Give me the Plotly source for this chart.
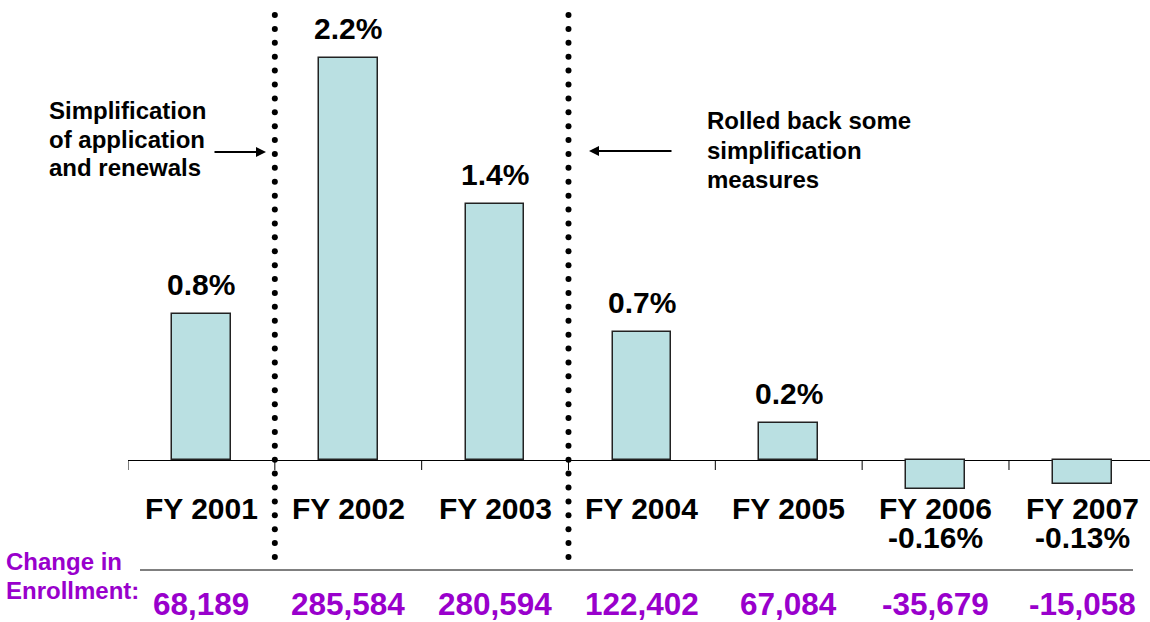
import numpy as np
import plotly.graph_objects as go

# ---- data ----
fiscal_years = ["FY 2001", "FY 2002", "FY 2003", "FY 2004", "FY 2005", "FY 2006", "FY 2007"]
pct_change = [0.8, 2.2, 1.4, 0.7, 0.2, -0.16, -0.13]
enrollment_change = [68189, 285584, 280594, 122402, 67084, -35679, -15058]
left_note = ["Simplification", "of application", "and renewals"]
right_note = ["Rolled back some", "simplification", "measures"]
policy_breaks = [0.5, 2.5]  # between FY2001/FY2002 and FY2003/FY2004

# ---- page geometry ----
W, H = 1150, 622
ZERO_PX = 460          # pixel row of the zero line
PX_PER_PCT = 182.7     # vertical pixels per percentage point
Y_TOP = ZERO_PX / PX_PER_PCT
Y_BOT = -(H - ZERO_PX) / PX_PER_PCT
LEFT_PX = 128
SLOT_PX = 146.83
X_MIN = -0.5
X_MAX = X_MIN + (W - LEFT_PX) / SLOT_PX

FONT = "Arial, Liberation Sans, sans-serif"
PURPLE = "#9900cc"


def py(p):
    """pixel row -> paper y"""
    return 1 - p / H


def dy(p):
    """pixel row -> data y"""
    return (ZERO_PX - p) / PX_PER_PCT


x_idx = list(range(len(fiscal_years)))

fig = go.Figure()

fig.add_trace(go.Bar(
    x=x_idx, y=pct_change, width=0.4,
    marker=dict(color="#bae0e2", line=dict(color="#222222", width=1.5)),
    hoverinfo="skip", showlegend=False,
))

# dotted separators marking policy changes
dot_rows = np.linspace(15, 557, 40)
for xb in policy_breaks:
    fig.add_trace(go.Scatter(
        x=[xb] * len(dot_rows), y=[dy(p) for p in dot_rows],
        mode="markers", marker=dict(size=6, color="black"),
        hoverinfo="skip", showlegend=False, cliponaxis=False,
    ))

annotations = []

# value labels above positive bars
for i, v in enumerate(pct_change):
    if v > 0:
        annotations.append(dict(
            x=i, y=v, xref="x", yref="y", text=f"{v:g}%", showarrow=False,
            yanchor="bottom", yshift=12, borderpad=0,
            font=dict(family=FONT, size=30, color="black", weight="bold"),
        ))

# category labels (with the value underneath for negative bars)
for i, (fy, v) in enumerate(zip(fiscal_years, pct_change)):
    annotations.append(dict(
        x=i, y=py(508), xref="x", yref="paper", text=fy, showarrow=False,
        yanchor="middle", borderpad=0,
        font=dict(family=FONT, size=30, color="black", weight="bold"),
    ))
    if v < 0:
        annotations.append(dict(
            x=i, y=py(537), xref="x", yref="paper", text=f"{v:g}%", showarrow=False,
            yanchor="middle", borderpad=0,
            font=dict(family=FONT, size=30, color="black", weight="bold"),
        ))

# enrollment change row
for i, n in enumerate(enrollment_change):
    annotations.append(dict(
        x=i, y=py(604), xref="x", yref="paper", text=f"{n:,}", showarrow=False,
        yanchor="middle", borderpad=0,
        font=dict(family=FONT, size=31.5, color=PURPLE, weight="bold"),
    ))

for k, line in enumerate(["Change in", "Enrollment:"]):
    annotations.append(dict(
        x=5 / W, y=py(561 + 29 * k), xref="paper", yref="paper", text=line,
        showarrow=False, xanchor="left", yanchor="middle", borderpad=0,
        font=dict(family=FONT, size=24, color=PURPLE, weight="bold"),
    ))

# side notes
for k, line in enumerate(left_note):
    annotations.append(dict(
        x=47 / W, y=py(110 + 29 * k), xref="paper", yref="paper", text=line,
        showarrow=False, xanchor="left", yanchor="middle",
        font=dict(family=FONT, size=24, color="black", weight="bold"),
    ))
for k, line in enumerate(right_note):
    annotations.append(dict(
        x=705 / W, y=py(121 + 29 * k), xref="paper", yref="paper", text=line,
        showarrow=False, xanchor="left", yanchor="middle",
        font=dict(family=FONT, size=24, color="black", weight="bold"),
    ))

# arrows pointing at the separators
annotations.append(dict(
    x=266 / W, y=py(152), xref="paper", yref="paper", text="", showarrow=True,
    ax=-53, ay=0, arrowhead=2, arrowsize=1, arrowwidth=2, arrowcolor="black", standoff=0,
))
annotations.append(dict(
    x=589 / W, y=py(151), xref="paper", yref="paper", text="", showarrow=True,
    ax=84, ay=0, arrowhead=2, arrowsize=1, arrowwidth=2, arrowcolor="black", standoff=0,
))

shapes = []
# tick marks between categories
for xt in np.arange(X_MIN, len(fiscal_years) - 0.5, 1.0):
    shapes.append(dict(type="line", xref="x", yref="y", x0=xt, x1=xt, y0=0, y1=dy(470),
                       line=dict(color="black", width=1)))
# rule above the enrollment row
shapes.append(dict(type="line", xref="paper", yref="paper", x0=140 / W, x1=1133 / W,
                   y0=py(570), y1=py(570), line=dict(color="black", width=1)))

fig.update_layout(
    width=W, height=H,
    margin=dict(l=0, r=0, t=0, b=0),
    paper_bgcolor="white", plot_bgcolor="white",
    xaxis=dict(domain=[LEFT_PX / W, 1], range=[X_MIN, X_MAX], showgrid=False,
               zeroline=False, showticklabels=False, ticks="", fixedrange=True),
    yaxis=dict(range=[Y_BOT, Y_TOP], showgrid=False, showticklabels=False, ticks="",
               zeroline=True, zerolinecolor="black", zerolinewidth=1, fixedrange=True),
    annotations=annotations,
    shapes=shapes,
    bargap=0,
)

fig.write_html("out.html")
